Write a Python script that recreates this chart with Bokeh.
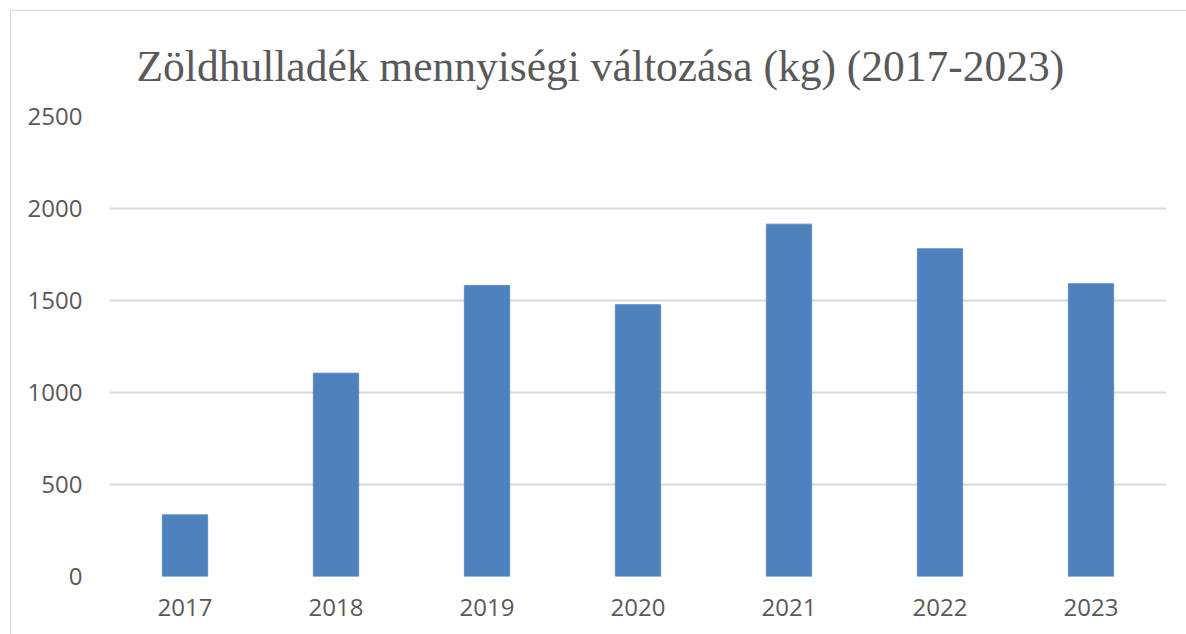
from bokeh.plotting import figure
from bokeh.models import FixedTicker, Range1d
from bokeh.embed import file_html
from bokeh.resources import INLINE

years = ["2017", "2018", "2019", "2020", "2021", "2022", "2023"]
amounts_kg = [335, 1105, 1582, 1477, 1915, 1781, 1591]
y_ticks = [0, 500, 1000, 1500, 2000, 2500]
title_text = "Zöldhulladék mennyiségi változása (kg) (2017-2023)"

W, H = 1176, 624
p = figure(x_range=years, y_range=Range1d(0, 2500), width=W, height=H,
           output_backend="svg", toolbar_location=None, title=title_text,
           min_border_left=98, min_border_right=21, min_border_top=105, min_border_bottom=59)
p.margin = (10, 0, 0, 10)
p.styles = {"border-left": "1px solid #d9d9d9", "border-top": "1px solid #d9d9d9"}
p.outline_line_color = None
p.background_fill_color = "white"

p.title.text_font = "Liberation Serif"
p.title.text_font_size = "43.5px"
p.title.text_font_style = "normal"
p.title.text_color = "#595959"
p.title.align = "left"
p.title.offset = 27
p.title.standoff = 53

p.vbar(x=years, top=amounts_kg, width=0.30, fill_color="#4f81bd", line_color="#5b8cc6", line_width=1)

p.xgrid.grid_line_color = None
p.ygrid.grid_line_color = "#d9d9d9"
p.ygrid.grid_line_width = 2
p.yaxis.ticker = FixedTicker(ticks=y_ticks)

for ax in (p.xaxis[0], p.yaxis[0]):
    ax.axis_line_color = None
    ax.major_tick_line_color = None
    ax.minor_tick_line_color = None
    ax.major_label_text_color = "#595959"
    ax.major_label_text_font = "Open Sans"
    ax.major_label_text_font_size = "24px"
p.yaxis.major_label_standoff = 21
p.xaxis.major_label_standoff = 16
p.x_range.range_padding = 0

open("out.html", "w").write(file_html(p, INLINE))
